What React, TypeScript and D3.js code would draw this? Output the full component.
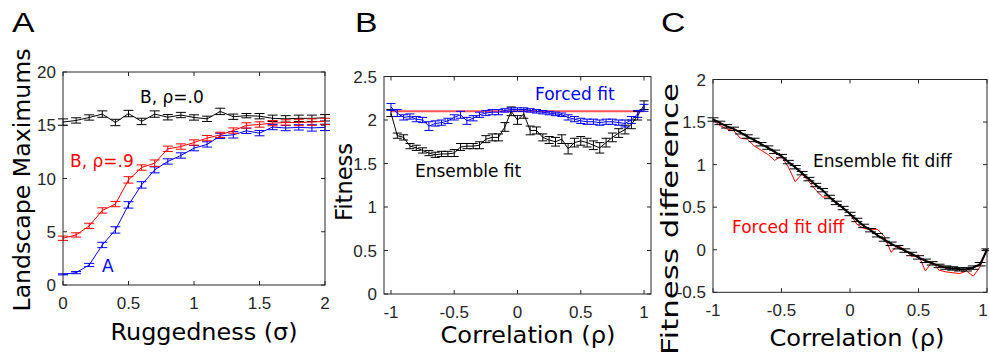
import React from 'react';
import * as d3 from 'd3';

// Panel A: landscape maximums vs ruggedness
const sigma = [0, 0.1, 0.2, 0.3, 0.4, 0.5, 0.6, 0.7, 0.8, 0.9, 1.0, 1.1, 1.2, 1.3, 1.4, 1.5, 1.6, 1.7, 1.8, 1.9, 2.0];
const maxA = [1.0, 1.16, 1.88, 3.76, 5.17, 7.52, 9.4, 10.81, 11.6, 12.16, 12.85, 13.2, 14.0, 14.1, 14.48, 14.26, 14.83, 14.74, 14.8, 14.75, 14.8];
const maxAErr = [0.05, 0.1, 0.15, 0.25, 0.3, 0.3, 0.3, 0.28, 0.25, 0.25, 0.25, 0.25, 0.25, 0.3, 0.25, 0.25, 0.25, 0.25, 0.25, 0.3, 0.3];
const maxB9 = [4.39, 4.7, 5.55, 7.0, 7.6, 9.87, 11.03, 11.44, 12.79, 13.0, 13.38, 13.79, 14.1, 14.5, 14.98, 15.07, 15.2, 15.26, 15.26, 15.3, 15.36];
const maxB9Err = [0.2, 0.2, 0.25, 0.25, 0.25, 0.3, 0.25, 0.3, 0.25, 0.25, 0.25, 0.25, 0.25, 0.25, 0.25, 0.25, 0.25, 0.25, 0.3, 0.3, 0.3];
const maxB0 = [15.3, 15.45, 15.73, 16.05, 15.26, 16.1, 15.36, 16.05, 15.75, 15.96, 15.73, 15.6, 16.3, 15.8, 15.9, 15.85, 15.65, 15.6, 15.65, 15.65, 15.7];
const maxB0Err = [0.3, 0.25, 0.25, 0.3, 0.3, 0.3, 0.3, 0.3, 0.25, 0.25, 0.25, 0.25, 0.3, 0.25, 0.2, 0.25, 0.3, 0.3, 0.3, 0.3, 0.3];

// Panels B and C: correlation grid
const rho = [-1, -0.95, -0.9, -0.85, -0.8, -0.75, -0.7, -0.65, -0.6, -0.55, -0.5, -0.45, -0.4, -0.35, -0.3, -0.25, -0.2, -0.15, -0.1, -0.05,
  0, 0.05, 0.1, 0.15, 0.2, 0.25, 0.3, 0.35, 0.4, 0.45, 0.5, 0.55, 0.6, 0.65, 0.7, 0.75, 0.8, 0.85, 0.9, 0.95, 1];

const ensembleFit = [2.08, 1.82, 1.8, 1.7, 1.68, 1.65, 1.62, 1.6, 1.61, 1.61, 1.62, 1.69, 1.7, 1.7, 1.71, 1.78, 1.8, 1.8, 1.92, 2.1,
  2.0, 2.07, 1.88, 1.88, 1.8, 1.77, 1.75, 1.78, 1.67, 1.74, 1.76, 1.74, 1.71, 1.68, 1.74, 1.8, 1.85, 1.89, 1.95, 2.05, 2.17];
const ensembleErr = [0.04, 0.03, 0.03, 0.03, 0.03, 0.03, 0.03, 0.03, 0.03, 0.03, 0.04, 0.04, 0.03, 0.03, 0.04, 0.04, 0.04, 0.04, 0.05, 0.05,
  0.05, 0.05, 0.05, 0.04, 0.04, 0.04, 0.05, 0.05, 0.06, 0.05, 0.05, 0.05, 0.05, 0.06, 0.05, 0.05, 0.05, 0.05, 0.05, 0.05, 0.05];
const forcedFit = [2.15, 2.08, 2.03, 2.04, 2.01, 2.0, 1.93, 1.96, 1.97, 1.99, 2.03, 2.06, 1.99, 2.02, 2.06, 2.08, 2.09, 2.09, 2.11, 2.12,
  2.12, 2.12, 2.11, 2.1, 2.09, 2.08, 2.07, 2.06, 2.03, 2.01, 1.99, 1.98, 1.98, 1.97, 1.98, 1.98, 1.97, 1.96, 2.0, 2.07, 2.14];
const forcedErr = [0.04, 0.04, 0.03, 0.03, 0.03, 0.03, 0.05, 0.03, 0.03, 0.03, 0.03, 0.04, 0.04, 0.03, 0.03, 0.03, 0.03, 0.03, 0.02, 0.02,
  0.02, 0.02, 0.02, 0.02, 0.02, 0.02, 0.02, 0.02, 0.03, 0.03, 0.03, 0.03, 0.03, 0.03, 0.03, 0.03, 0.03, 0.04, 0.04, 0.04, 0.04];
const optimumFit = 2.1;

const ensembleDiff = [1.53, 1.49, 1.45, 1.42, 1.38, 1.33, 1.29, 1.24, 1.2, 1.15, 1.1, 1.03, 0.97, 0.9, 0.83, 0.76, 0.7, 0.62, 0.55, 0.49,
  0.42, 0.35, 0.28, 0.23, 0.17, 0.12, 0.07, 0.03, -0.01, -0.05, -0.09, -0.13, -0.16, -0.19, -0.21, -0.22, -0.23, -0.23, -0.21, -0.17, 0.0];
const ensembleDiffErr = [0.02, 0.02, 0.02, 0.02, 0.02, 0.02, 0.02, 0.02, 0.02, 0.02, 0.02, 0.02, 0.02, 0.02, 0.02, 0.02, 0.02, 0.02, 0.02, 0.02,
  0.02, 0.02, 0.02, 0.02, 0.02, 0.02, 0.02, 0.02, 0.02, 0.02, 0.02, 0.02, 0.02, 0.02, 0.02, 0.02, 0.02, 0.02, 0.02, 0.02, 0.01];
const forcedDiff = [1.52, 1.46, 1.42, 1.4, 1.31, 1.3, 1.22, 1.17, 1.12, 1.05, 1.1, 0.97, 0.8, 0.89, 0.8, 0.7, 0.62, 0.62, 0.56, 0.48,
  0.42, 0.3, 0.25, 0.24, 0.24, 0.16, -0.03, 0.05, 0.0, -0.08, -0.06, -0.25, -0.14, -0.24, -0.26, -0.27, -0.28, -0.25, -0.31, -0.2, 0.0];

const sigmaTicks = [0, 0.5, 1, 1.5, 2];
const maxTicks = [0, 5, 10, 15, 20];
const rhoTicks = [-1, -0.5, 0, 0.5, 1];
const fitTicks = [0, 0.5, 1, 1.5, 2, 2.5];
const diffTicks = [-0.5, 0, 0.5, 1, 1.5, 2];

const AXIS = '#262626';
const TICK_FONT = '"Liberation Sans", Arial, sans-serif';
const LABEL_FONT = '"DejaVu Sans", Verdana, sans-serif';
const WIDTH = 989;
const HEIGHT = 358;

type Series = {
  x: number[];
  y: number[];
  err?: number[];
  color: string;
  width: number;
  cap: number;
};

type Note = { text: string; x: number; y: number; color: string };

type PanelProps = {
  box: [number, number, number, number]; // left, right, top, bottom
  xDomain: [number, number];
  yDomain: [number, number];
  xTicks: number[];
  yTicks: number[];
  series: Series[];
  hline?: { y: number; x0: number; x1: number };
  notes: Note[];
};

const fmt = (v: number) => String(v);

function Panel({ box, xDomain, yDomain, xTicks, yTicks, series, hline, notes }: PanelProps) {
  const [l, r, t, b] = box;
  const x = d3.scaleLinear().domain(xDomain).range([l, r]);
  const y = d3.scaleLinear().domain(yDomain).range([b, t]);
  const tk = 4;

  return (
    <g>
      {hline && (
        <line x1={x(hline.x0)} x2={x(hline.x1)} y1={y(hline.y)} y2={y(hline.y)}
          stroke="rgb(255,85,85)" strokeWidth={2} />
      )}
      {series.map((s, si) => {
        const line = d3.line<number>().x((_, i) => x(s.x[i])).y((d) => y(d));
        return (
          <g key={si}>
            <path d={line(s.y) || ''} fill="none" stroke={s.color} strokeWidth={s.width} />
            {s.err && s.y.map((v, i) => {
              const cx = x(s.x[i]);
              const e = s.err![i];
              const y0 = y(v - e);
              const y1 = y(v + e);
              return (
                <g key={i} stroke={s.color} strokeWidth={1}>
                  <line x1={cx} x2={cx} y1={y0} y2={y1} />
                  <line x1={cx - s.cap / 2} x2={cx + s.cap / 2} y1={y0} y2={y0} />
                  <line x1={cx - s.cap / 2} x2={cx + s.cap / 2} y1={y1} y2={y1} />
                </g>
              );
            })}
          </g>
        );
      })}
      <rect x={l} y={t} width={r - l} height={b - t} fill="none" stroke={AXIS} strokeWidth={1} />
      {xTicks.map((v) => (
        <g key={'x' + v}>
          <line x1={x(v)} x2={x(v)} y1={b} y2={b - tk} stroke={AXIS} />
          <line x1={x(v)} x2={x(v)} y1={t} y2={t + tk} stroke={AXIS} />
          <text x={Math.min(x(v), WIDTH - 6)} y={b + 24} textAnchor="middle" fontFamily={TICK_FONT} fontSize={17} fill={AXIS}>
            {fmt(v)}
          </text>
        </g>
      ))}
      {yTicks.map((v) => (
        <g key={'y' + v}>
          <line x1={l} x2={l + tk} y1={y(v)} y2={y(v)} stroke={AXIS} />
          <line x1={r} x2={r - tk} y1={y(v)} y2={y(v)} stroke={AXIS} />
          <text x={l - 7} y={y(v) + 6} textAnchor="end" fontFamily={TICK_FONT} fontSize={17} fill={AXIS}>
            {fmt(v)}
          </text>
        </g>
      ))}
      {notes.map((n, i) => (
        <text key={i} x={n.x} y={n.y} fill={n.color} fontFamily={LABEL_FONT} fontSize={17}>
          {n.text}
        </text>
      ))}
    </g>
  );
}

function Letter({ ch, x }: { ch: string; x: number }) {
  return (
    <text transform={`translate(${x},32) scale(1.25,1)`} fontFamily={TICK_FONT} fontSize={27}>
      {ch}
    </text>
  );
}

export default function App() {
  return (
    <svg width={WIDTH} height={HEIGHT} style={{ position: 'absolute', left: 0, top: 0, background: '#fff' }}>
      <rect width={WIDTH} height={HEIGHT} fill="#fff" />

      {/* A */}
      <Letter ch="A" x={12} />
      <Panel
        box={[63, 325, 72, 285]}
        xDomain={[0, 2]}
        yDomain={[0, 20]}
        xTicks={sigmaTicks}
        yTicks={maxTicks}
        series={[
          { x: sigma, y: maxB0, err: maxB0Err, color: '#000', width: 1, cap: 10 },
          { x: sigma, y: maxA, err: maxAErr, color: '#0000ff', width: 1, cap: 10 },
          { x: sigma, y: maxB9, err: maxB9Err, color: '#ff0000', width: 1, cap: 10 },
        ]}
        notes={[
          { text: 'B, ρ=.0', x: 140, y: 103, color: '#000' },
          { text: 'B, ρ=.9', x: 70, y: 167, color: '#ff0000' },
          { text: 'A', x: 102, y: 272, color: '#0000ff' },
        ]}
      />
      <text transform="translate(30,180) rotate(-90)" textAnchor="middle" fontFamily={LABEL_FONT} fontSize={23}
        textLength={263} lengthAdjust="spacingAndGlyphs">
        Landscape Maximums
      </text>
      <text x={204} y={340} textAnchor="middle" fontFamily={LABEL_FONT} fontSize={23}
        textLength={187} lengthAdjust="spacingAndGlyphs">Ruggedness (σ)</text>

      {/* B */}
      <Letter ch="B" x={355} />
      <Panel
        box={[384, 651, 76.5, 294]}
        xDomain={[-1.055, 1.055]}
        yDomain={[0, 2.5]}
        xTicks={rhoTicks}
        yTicks={fitTicks}
        hline={{ y: optimumFit, x0: -1, x1: 1 }}
        series={[
          { x: rho, y: ensembleFit, err: ensembleErr, color: '#000', width: 1, cap: 9 },
          { x: rho, y: forcedFit, err: forcedErr, color: '#0000ff', width: 1, cap: 9 },
        ]}
        notes={[
          { text: 'Forced fit', x: 535, y: 100, color: '#0000ff' },
          { text: 'Ensemble fit', x: 415, y: 177, color: '#000' },
        ]}
      />
      <text transform="translate(352,182) rotate(-90)" textAnchor="middle" fontFamily={LABEL_FONT} fontSize={23}
        textLength={78} lengthAdjust="spacingAndGlyphs">
        Fitness
      </text>
      <text x={528} y={343} textAnchor="middle" fontFamily={LABEL_FONT} fontSize={23}
        textLength={175} lengthAdjust="spacingAndGlyphs">Correlation (ρ)</text>

      {/* C */}
      <Letter ch="C" x={661} />
      <Panel
        box={[713, 987, 79.5, 292.3]}
        xDomain={[-1, 1]}
        yDomain={[-0.5, 2]}
        xTicks={rhoTicks}
        yTicks={diffTicks}
        series={[
          { x: rho, y: forcedDiff, color: '#ff0000', width: 1, cap: 0 },
          { x: rho, y: ensembleDiff, err: ensembleDiffErr, color: '#000', width: 2, cap: 11 },
        ]}
        notes={[
          { text: 'Ensemble fit diff', x: 813, y: 167, color: '#000' },
          { text: 'Forced fit diff', x: 732, y: 233, color: '#ff0000' },
        ]}
      />
      <text transform="translate(678,219) rotate(-90)" textAnchor="middle" fontFamily={LABEL_FONT} fontSize={23}
        textLength={272} lengthAdjust="spacingAndGlyphs">
        Fitness difference
      </text>
      <text x={857} y={346} textAnchor="middle" fontFamily={LABEL_FONT} fontSize={23}
        textLength={175} lengthAdjust="spacingAndGlyphs">Correlation (ρ)</text>
    </svg>
  );
}
